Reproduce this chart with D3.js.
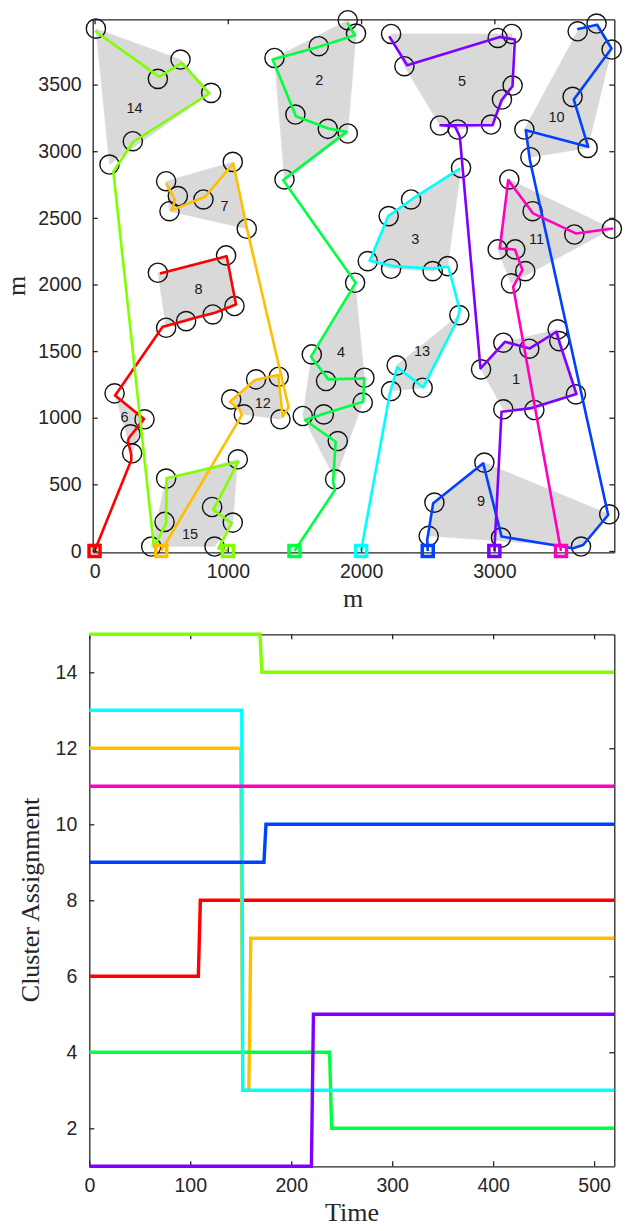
<!DOCTYPE html>
<html>
<head>
<meta charset="utf-8">
<script src="https://cdn.jsdelivr.net/npm/d3@7"></script>
<style>
  body { margin: 0; background: #fff; }
  .tick text { font-family: "Liberation Sans", Arial, sans-serif; font-size: 19.5px; fill: #262626; }
  .axis path, .axis line { stroke: #262626; stroke-width: 1.3; }
  .lbl { font-family: "Liberation Serif", "DejaVu Serif", serif; fill: #262626; }
</style>
</head>
<body>
<svg id="chart" width="639" height="1231"></svg>
<script>
// robots: start squares and colours
const robotColors = ["#ff0000", "#ffbf00", "#80ff00", "#00ff40", "#00ffff", "#0040ff", "#8000ff", "#ff00bf"];
const robotStarts = [0, 500, 1000, 1500, 2000, 2500, 3000, 3500];

// targets per cluster (m)
const clusterTargets = [
  [[2900,1363],[3067,1563],[3262,1518],[3475,1663],[3487,1575],[3612,1175],[3067,1063],[3300,1058]],
  [[1900,3983],[1962,3883],[1682,3788],[1350,3700],[1507,3275],[1750,3168],[1900,3133],[1425,2788]],
  [[2750,2875],[2375,2638],[2207,2513],[2050,2175],[2225,2118],[2537,2100],[2650,2138]],
  [[1955,2013],[1630,1475],[1737,1275],[2025,1300],[2012,1113],[1720,1025],[1562,1013],[1825,825],[1805,538]],
  [[2225,3880],[2325,3638],[3025,3850],[3132,3880],[3137,3493],[3057,3388],[2975,3200],[2592,3193],[2725,3163]],
  [[150,1183],[375,988],[270,875],[282,733]],
  [[537,2775],[625,2663],[562,2550],[817,2638],[1037,2920],[1142,2418]],
  [[475,2088],[987,2218],[537,1675],[687,1725],[887,1775],[1050,1838]],
  [[2925,663],[2550,363],[2507,113],[3050,100],[3650,33],[3862,275]],
  [[3625,3900],[3767,3958],[3880,3763],[3587,3408],[3700,3025],[3225,3163],[3270,2955]],
  [[3112,2788],[3287,2550],[3600,2375],[3882,2418],[3025,2263],[3157,2263],[3232,2100],[3125,2008]],
  [[1025,1138],[1212,1288],[1382,1308],[1120,1025],[1395,988]],
  [[2737,1770],[2267,1393],[2225,1200],[2462,1225]],
  [[10,3920],[475,3543],[645,3688],[875,3438],[287,3075],[112,2900]],
  [[537,543],[1075,688],[882,330],[1037,213],[525,218],[425,33],[900,33]]
];
const clusterCenters = [
  [3162,1293],[1687,3538],[2407,2343],[1850,1493],[2757,3525],[225,1005],[975,2588],[780,1963],
  [2900,375],[3467,3258],[3317,2343],[1262,1113],[2457,1500],[300,3325],[717,125]
];

// robot routes (m)
const robotPaths = [
  [[0,0],[276,683],[275,725],[250,825],[259,850],[371,991],[154,1166],[511,1682],[540,1690],[691,1732],[720,1740],[904,1788],[1061,1850],[991,2212],[491,2082]],
  [[500,0],[1105,1019],[1090,1060],[1016,1120],[1204,1283],[1379,1320],[1411,1007],[1456,1078],[1146,2408],[1041,2908],[829,2658],[579,2558],[604,2633],[536,2763]],
  [[1000,0],[929,20],[1029,208],[891,308],[1079,670],[541,545],[536,208],[446,28],[141,2848],[291,3071],[861,3433],[654,3663],[486,3558],[4,3902]],
  [[1500,0],[1804,458],[1790,520],[1809,820],[1579,983],[1720,1030],[2016,1120],[2024,1295],[1754,1288],[1624,1458],[1959,2012],[1416,2783],[1891,3145],[1754,3170],[1511,3263],[1336,3688],[1679,3783],[1954,3870],[1896,3963]],
  [[2000,0],[2216,1183],[2271,1378],[2466,1228],[2716,1720],[2741,1808],[2654,2133],[2536,2120],[2241,2138],[2066,2178],[2204,2513],[2379,2638],[2741,2870]],
  [[2500,0],[2496,83],[2541,358],[2916,658],[3054,108],[3591,20],[3666,45],[3854,270],[3266,2936],[3236,3158],[3704,3033],[3596,3388],[3879,3771],[3771,3949],[3621,3916]],
  [[3000,0],[3054,1045],[3266,1070],[3616,1178],[3491,1558],[3466,1645],[3266,1520],[3079,1570],[2896,1370],[2741,3108],[2704,3188],[2596,3195],[2986,3195],[3054,3383],[3136,3488],[3154,3838],[3041,3858],[2346,3645],[2211,3863]],
  [[3500,0],[3141,1983],[3211,2108],[3154,2263],[3041,2270],[3104,2783],[3291,2533],[3611,2383],[3891,2420]]
];

// cluster assignment over time, [time, cluster]
const assignRed = [[0,6],[108,6],[110,8],[520,8]];
const assignOrange = [[0,12],[150,12],[152,3],[158,3],[160,7],[520,7]];
const assignLime = [[0,15],[169,15],[171,14],[520,14]];
const assignGreen = [[0,4],[238,4],[240,2],[520,2]];
const assignCyan = [[0,13],[151,13],[152,3],[520,3]];
const assignBlue = [[0,9],[173,9],[175,10],[520,10]];
const assignPurple = [[0,1],[220,1],[222,5],[520,5]];
const assignMagenta = [[0,11],[520,11]];
const assignments = [assignRed, assignOrange, assignLime, assignGreen, assignCyan, assignBlue, assignPurple, assignMagenta];

const mapXTicks = [0, 1000, 2000, 3000];
const mapYTicks = [0, 500, 1000, 1500, 2000, 2500, 3000, 3500];
const timeTicks = [0, 100, 200, 300, 400, 500];
const clusterTicks = [2, 4, 6, 8, 10, 12, 14];

const svg = d3.select("#chart");
const fmt = d3.format("d");

// ---------- top: map ----------
const x = d3.scaleLinear().domain([-14, 3900]).range([92.7, 614.3]);
const y = d3.scaleLinear().domain([-10, 3990]).range([552.3, 19.3]);

const map = svg.append("g");

map.append("g").selectAll("path").data(clusterTargets)
  .enter().append("path")
    .attr("d", d => "M" + d3.polygonHull(d.map(p => [x(p[0]), y(p[1])])).join("L") + "Z")
    .attr("fill", "#d9d9d9")
    .attr("stroke", "#d9d9d9")
    .attr("stroke-width", 0.5);

map.append("g").selectAll("text").data(clusterCenters)
  .enter().append("text")
    .text((d, i) => i + 1)
    .attr("x", d => x(d[0]))
    .attr("y", d => y(d[1]))
    .attr("dy", "0.35em")
    .style("text-anchor", "middle")
    .style("font-family", "Liberation Sans, Arial, sans-serif")
    .style("font-size", "14.5px")
    .style("fill", "#1a1a1a");

map.append("g").selectAll("circle").data(clusterTargets.flat())
  .enter().append("circle")
    .attr("cx", d => x(d[0]))
    .attr("cy", d => y(d[1]))
    .attr("r", 9.6)
    .attr("fill", "none")
    .attr("stroke", "#111")
    .attr("stroke-width", 1.4);

const route = d3.line().x(d => x(d[0])).y(d => y(d[1]));

map.append("g").selectAll("path").data(robotPaths)
  .enter().append("path")
    .attr("d", route)
    .attr("fill", "none")
    .attr("stroke", (d, i) => robotColors[i])
    .attr("stroke-width", 2.6)
    .attr("stroke-linejoin", "round");

// axes of the map
map.append("g").attr("class", "axis").attr("transform", "translate(0,552.3)")
  .call(d3.axisBottom(x).tickValues(mapXTicks).tickFormat(fmt).tickSize(-5).tickSizeOuter(0).tickPadding(12));
map.append("g").attr("class", "axis").attr("transform", "translate(0,19.3)")
  .call(d3.axisTop(x).tickValues(mapXTicks).tickSize(-5).tickSizeOuter(0).tickFormat(""));
map.append("g").attr("class", "axis").attr("transform", "translate(92.7,0)")
  .call(d3.axisLeft(y).tickValues(mapYTicks).tickFormat(fmt).tickSize(-5).tickSizeOuter(0).tickPadding(11));
map.append("g").attr("class", "axis").attr("transform", "translate(614.3,0)")
  .call(d3.axisRight(y).tickValues(mapYTicks).tickSize(-5).tickSizeOuter(0).tickFormat(""));

map.append("g").selectAll("rect").data(robotStarts)
  .enter().append("rect")
    .attr("x", d => x(d) - 5.5)
    .attr("y", y(0) - 5.5)
    .attr("width", 11)
    .attr("height", 11)
    .attr("fill", "none")
    .attr("stroke", (d, i) => robotColors[i])
    .attr("stroke-width", 3.5);

map.append("text").attr("class", "lbl")
  .attr("x", 353).attr("y", 598).attr("dy", "0.35em")
  .style("text-anchor", "middle").style("font-size", "26px")
  .text("m");
map.append("text").attr("class", "lbl")
  .attr("transform", "translate(16,286) rotate(-90)").attr("dy", "0.35em")
  .style("text-anchor", "middle").style("font-size", "26px")
  .text("m");

// ---------- bottom: assignment ----------
const t = d3.scaleLinear().domain([0, 520]).range([89.3, 614.3]);
const c = d3.scaleLinear().domain([1, 15]).range([1166.3, 634.3]);

const steps = svg.append("g");

steps.append("g").attr("class", "axis").attr("transform", "translate(0,1166.3)")
  .call(d3.axisBottom(t).tickValues(timeTicks).tickFormat(fmt).tickSize(-5).tickSizeOuter(0).tickPadding(12));
steps.append("g").attr("class", "axis").attr("transform", "translate(0,634.3)")
  .call(d3.axisTop(t).tickValues(timeTicks).tickSize(-5).tickSizeOuter(0).tickFormat(""));
steps.append("g").attr("class", "axis").attr("transform", "translate(89.3,0)")
  .call(d3.axisLeft(c).tickValues(clusterTicks).tickFormat(fmt).tickSize(-5).tickSizeOuter(0).tickPadding(12));
steps.append("g").attr("class", "axis").attr("transform", "translate(614.3,0)")
  .call(d3.axisRight(c).tickValues(clusterTicks).tickSize(-5).tickSizeOuter(0).tickFormat(""));

const stepLine = d3.line().x(d => t(d[0])).y(d => c(d[1]));

steps.append("g").selectAll("path").data(assignments)
  .enter().append("path")
    .attr("d", stepLine)
    .attr("fill", "none")
    .attr("stroke", (d, i) => robotColors[i])
    .attr("stroke-width", 3.4);

steps.append("text").attr("class", "lbl")
  .attr("x", 352).attr("y", 1212).attr("dy", "0.35em")
  .style("text-anchor", "middle").style("font-size", "26px")
  .text("Time");
steps.append("text").attr("class", "lbl")
  .attr("transform", "translate(30,900) rotate(-90)").attr("dy", "0.35em")
  .style("text-anchor", "middle").style("font-size", "26px")
  .text("Cluster Assignment");
</script>
</body>
</html>
